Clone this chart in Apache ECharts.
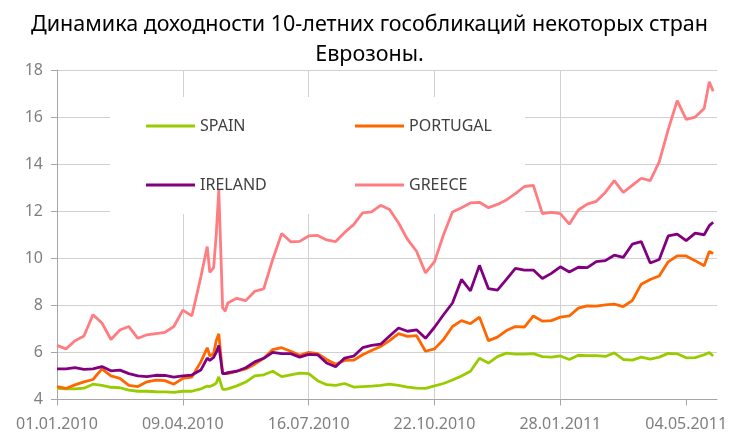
<!DOCTYPE html>
<html>
<head>
<meta charset="utf-8">
<script src="https://cdn.jsdelivr.net/npm/echarts@6/dist/echarts.min.js"></script>
<style>
  html, body { margin: 0; padding: 0; background: #fff; }
  #chart { width: 739px; height: 434px; }
</style>
</head>
<body>
<div id="chart"></div>
<script>
// weekly readings (plus a few extra days around the May 2010 spike)
const dates = [
  '01.01.2010', '08.01.2010', '15.01.2010', '22.01.2010', '29.01.2010', '05.02.2010', '12.02.2010',
  '19.02.2010', '26.02.2010', '05.03.2010', '12.03.2010', '19.03.2010', '26.03.2010', '02.04.2010',
  '09.04.2010', '16.04.2010', '23.04.2010', '28.04.2010', '30.04.2010', '03.05.2010', '05.05.2010',
  '07.05.2010', '10.05.2010', '12.05.2010', '14.05.2010', '21.05.2010', '28.05.2010', '04.06.2010',
  '11.06.2010', '18.06.2010', '25.06.2010', '02.07.2010', '09.07.2010', '16.07.2010', '23.07.2010',
  '30.07.2010', '06.08.2010', '13.08.2010', '20.08.2010', '27.08.2010', '03.09.2010', '10.09.2010',
  '17.09.2010', '24.09.2010', '01.10.2010', '08.10.2010', '15.10.2010', '22.10.2010', '29.10.2010',
  '05.11.2010', '12.11.2010', '19.11.2010', '26.11.2010', '03.12.2010', '10.12.2010', '17.12.2010',
  '24.12.2010', '31.12.2010', '07.01.2011', '14.01.2011', '21.01.2011', '28.01.2011', '04.02.2011',
  '11.02.2011', '18.02.2011', '25.02.2011', '04.03.2011', '11.03.2011', '18.03.2011', '25.03.2011',
  '01.04.2011', '08.04.2011', '15.04.2011', '22.04.2011', '29.04.2011', '06.05.2011', '13.05.2011',
  '20.05.2011', '24.05.2011', '27.05.2011'
]

const spain = [
  4.47, 4.45, 4.45, 4.48, 4.65, 4.6, 4.52, 4.5, 4.4, 4.35, 4.35, 4.33, 4.32, 4.3,
  4.35, 4.35, 4.45, 4.57, 4.55, 4.62, 4.7, 4.96, 4.43, 4.43, 4.45, 4.58, 4.74, 5.0,
  5.05, 5.2, 4.97, 5.05, 5.12, 5.1, 4.8, 4.63, 4.6, 4.68, 4.53, 4.55, 4.57, 4.6,
  4.65, 4.6, 4.53, 4.48, 4.47, 4.58, 4.68, 4.83, 5.0, 5.2, 5.75, 5.55, 5.82, 5.97,
  5.93, 5.93, 5.95, 5.82, 5.8, 5.85, 5.7, 5.88, 5.86, 5.86, 5.83, 5.98, 5.7, 5.67,
  5.8, 5.72, 5.8, 5.96, 5.94, 5.77, 5.78, 5.9, 6.0, 5.85
]

const portugal = [
  4.55, 4.47, 4.62, 4.75, 4.85, 5.3, 5.0, 4.9, 4.6, 4.55, 4.75, 4.82, 4.8, 4.65,
  4.9, 4.95, 5.6, 6.2, 5.85, 5.95, 6.5, 6.79, 5.1, 5.1, 5.1, 5.2, 5.3, 5.5,
  5.75, 6.12, 6.2, 6.05, 5.88, 6.0, 5.95, 5.7, 5.5, 5.66, 5.67, 5.9, 6.08, 6.25,
  6.5, 6.8, 6.68, 6.71, 6.05, 6.15, 6.55, 7.1, 7.35, 7.22, 7.5, 6.5, 6.65, 6.93,
  7.1, 7.08, 7.55, 7.33, 7.35, 7.5, 7.55, 7.88, 7.98, 7.97, 8.02, 8.05, 7.95, 8.2,
  8.9, 9.1, 9.25, 9.85, 10.1, 10.1, 9.9, 9.68, 10.29, 10.2
]

const ireland = [
  5.3, 5.3, 5.35, 5.28, 5.3, 5.4, 5.22, 5.25, 5.1, 5.0, 4.97, 5.03, 5.02, 4.95,
  5.0, 5.04, 5.25, 5.76, 5.66, 5.79, 6.0, 6.3, 5.1, 5.1, 5.14, 5.2, 5.35, 5.6,
  5.75, 6.0, 5.95, 5.95, 5.8, 5.92, 5.9, 5.55, 5.39, 5.76, 5.84, 6.2, 6.3, 6.35,
  6.7, 7.04, 6.9, 6.96, 6.6, 7.07, 7.6, 8.1, 9.1, 8.62, 9.7, 8.71, 8.65, 9.1,
  9.57, 9.5, 9.5, 9.14, 9.36, 9.64, 9.42, 9.62, 9.6, 9.86, 9.9, 10.13, 10.04, 10.6,
  10.71, 9.8, 9.95, 10.95, 11.03, 10.75, 11.07, 11.0, 11.39, 11.53
]

const greece = [
  6.3, 6.15, 6.5, 6.7, 7.6, 7.25, 6.55, 6.95, 7.1, 6.6, 6.75, 6.8, 6.85, 7.1,
  7.8, 7.55, 9.2, 10.5, 9.4, 9.6, 11.0, 12.9, 7.9, 7.75, 8.1, 8.3, 8.2, 8.6,
  8.7, 9.95, 11.05, 10.7, 10.72, 10.95, 10.97, 10.78, 10.71, 11.1, 11.43, 11.93, 11.97, 12.25,
  12.07, 11.5, 10.8, 10.3, 9.38, 9.86, 11.0, 11.97, 12.15, 12.35, 12.38, 12.15, 12.29, 12.48,
  12.75, 13.05, 13.1, 11.9, 11.95, 11.9, 11.45, 12.05, 12.3, 12.42, 12.8, 13.3, 12.8, 13.1,
  13.4, 13.3, 14.1, 15.47, 16.7, 15.9, 16.0, 16.36, 17.5, 17.1
]

const tickLabels = ['01.01.2010', '09.04.2010', '16.07.2010', '22.10.2010', '28.01.2011', '04.05.2011']
const tickStep = 98

function dayOffset(s) {
  const p = s.split('.')
  return (Date.UTC(+p[2], +p[1] - 1, +p[0]) - Date.UTC(2010, 0, 1)) / 86400000
}

function toPairs(values) {
  return values.map((v, i) => [dayOffset(dates[i]), v])
}

const chart = echarts.init(document.getElementById('chart'))

const legendText = { color: '#404040', fontSize: 16, fontFamily: 'Noto Sans' }
function legendAt(name, left, top) {
  return {
    data: [name],
    left: left,
    top: top,
    padding: 0,
    icon: 'rect',
    itemWidth: 49,
    itemHeight: 3,
    itemGap: 0,
    textStyle: legendText,
    selectedMode: false
  }
}

const option = {
  animation: false,
  backgroundColor: '#fff',
  title: {
    text: 'Динамика доходности 10-летних гособликаций некоторых стран\nЕврозоны.',
    left: 'center',
    top: 5,
    textStyle: {
      color: '#000',
      fontSize: 21.5,
      fontWeight: 'normal',
      fontFamily: 'Noto Sans',
      lineHeight: 30
    }
  },
  legend: [
    legendAt('SPAIN', 146, 118),
    legendAt('PORTUGAL', 355, 118),
    legendAt('IRELAND', 146, 177),
    legendAt('GREECE', 355, 177)
  ],
  graphic: [
    {
      type: 'rect',
      z: 1,
      shape: { x: 110, y: 97, width: 415, height: 117 },
      style: { fill: '#fff' }
    }
  ],
  grid: {
    left: 57,
    right: 22,
    top: 70,
    bottom: 34.5
  },
  xAxis: {
    type: 'value',
    min: 0,
    max: 514,
    interval: tickStep,
    axisLine: { lineStyle: { color: '#a6a6a6', width: 1 } },
    axisTick: { show: true, length: 6, lineStyle: { color: '#a6a6a6' }, customValues: [0, 98, 196, 294, 392, 490] },
    axisLabel: {
      color: '#7f7f7f',
      fontSize: 16,
      fontFamily: 'Noto Sans',
      margin: 17,
      showMaxLabel: false,
      formatter: function (v) {
        const i = Math.round(v / tickStep)
        return v % tickStep === 0 && tickLabels[i] ? tickLabels[i] : ''
      }
    },
    splitLine: { show: true, showMaxLine: false, lineStyle: { color: '#d0d0d0', width: 1 } }
  },
  yAxis: {
    type: 'value',
    min: 4,
    max: 18,
    interval: 2,
    axisLine: { show: true, lineStyle: { color: '#a6a6a6', width: 1 } },
    axisTick: { show: true, length: 6, lineStyle: { color: '#a6a6a6' } },
    axisLabel: { color: '#7f7f7f', fontSize: 16, fontFamily: 'Noto Sans', margin: 14 },
    splitLine: { show: true, lineStyle: { color: '#d0d0d0', width: 1 } }
  },
  series: [
    { name: 'SPAIN', type: 'line', data: toPairs(spain), color: '#99cc00' },
    { name: 'PORTUGAL', type: 'line', data: toPairs(portugal), color: '#ff6600' },
    { name: 'IRELAND', type: 'line', data: toPairs(ireland), color: '#800080' },
    { name: 'GREECE', type: 'line', data: toPairs(greece), color: '#ff7c80' }
  ].map(s => Object.assign(s, {
    showSymbol: false,
    symbol: 'none',
    lineStyle: { width: 2.8 }
  }))
}

chart.setOption(option)
</script>
</body>
</html>
